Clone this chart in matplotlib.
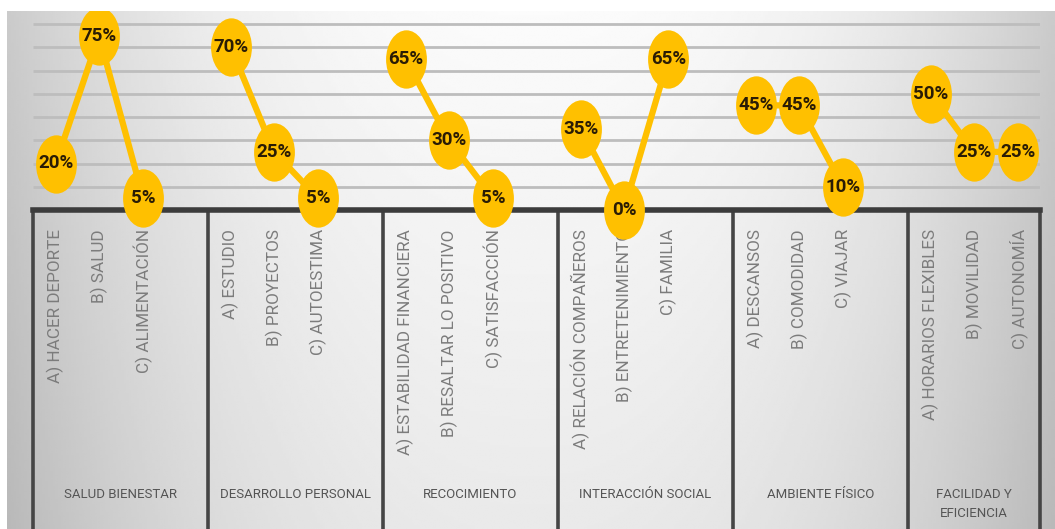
import numpy as np
import matplotlib
matplotlib.use('Agg')
import matplotlib.pyplot as plt
from matplotlib.path import Path
from matplotlib.transforms import Affine2D

groups = ["SALUD BIENESTAR", "DESARROLLO PERSONAL", "RECOCIMIENTO",
          "INTERACCIÓN SOCIAL", "AMBIENTE FÍSICO", "FACILIDAD Y\nEFICIENCIA"]
items = [["A) HACER DEPORTE", "B) SALUD", "C) ALIMENTACIÓN"],
         ["A) ESTUDIO", "B) PROYECTOS", "C) AUTOESTIMA"],
         ["A) ESTABILIDAD FINANCIERA", "B) RESALTAR LO POSITIVO", "C) SATISFACCIÓN"],
         ["A) RELACIÓN COMPAÑEROS", "B) ENTRETENIMIENTO", "C) FAMILIA"],
         ["A) DESCANSOS", "B) COMODIDAD", "C) VIAJAR"],
         ["A) HORARIOS FLEXIBLES", "B) MOVILIDAD", "C) AUTONOMÍA"]]
values = [[20, 75, 5], [70, 25, 5], [65, 30, 5],
          [35, 0, 65], [45, 45, 10], [50, 25, 25]]

GOLD = '#FFC000'
NARROW = ['Roboto', 'DejaVu Sans']

W, H = 1055, 529
fig = plt.figure(figsize=(W / 100, H / 100), dpi=100)
fig.patch.set_facecolor('white')

# gradient background
bg = fig.add_axes([7 / W, 0, (W - 7) / W, (H - 11) / H])
u = np.linspace(-1, 1, 400)
w = np.linspace(0, 1, 200)
U, Wv = np.meshgrid(u, w)
shade = 0.985 - 0.19 * np.abs(U) ** 2.4 - 0.07 * Wv
bg.imshow(shade, cmap='gray', vmin=0, vmax=1, aspect='auto',
          extent=[0, 1, 0, 1], interpolation='bilinear')
bg.set_axis_off()

x0, x1 = 33, 1040
ybase = 210
px_per_unit = 175.0
xmax = (x1 - x0) / px_per_unit
px_per_pct = 2.325

# table below the axis
tax = fig.add_axes([x0 / W, 0, (x1 - x0) / W, (H - ybase) / H])
tax.set_xlim(0, xmax)
tax.set_ylim(1, 0)
tax.set_axis_off()
tax.patch.set_alpha(0)
bounds = list(range(len(groups))) + [xmax]
tax.vlines(bounds, 0, 1.05, colors='#454545', lw=2.6, clip_on=False)

offsets = [0.13, 0.377, 0.63]

for g, name in enumerate(groups):
    for j, lab in enumerate(items[g]):
        tax.text(g + offsets[j], 0.06, lab, rotation=90, ha='center', va='top',
                 fontsize=12.3, color='#7c7c7c', family=NARROW)
    gx = (bounds[g] + bounds[g + 1]) / 2
    tax.text(gx, 0.87, name, ha='center', va='top', fontsize=9.5,
             color='#555555', family=NARROW, linespacing=1.6)

# data axes
ax = fig.add_axes([x0 / W, (H - ybase) / H, (x1 - x0) / W, (ybase - 11) / H])
ax.set_xlim(0, xmax)
ax.set_ylim(0, (ybase - 11) / px_per_pct)
ax.set_axis_off()
ax.patch.set_alpha(0)
ax.hlines(range(10, 90, 10), 0, xmax + 0.02, colors='#bdbdbd', lw=2)
ax.axhline(0, color='#3c3c3c', lw=4, clip_on=False, zorder=2)

ellipse = Path.unit_circle().transformed(Affine2D().scale(0.7, 1.0))

for g in range(len(groups)):
    xs = [g + o for o in offsets]
    ln, = ax.plot(xs, values[g], color=GOLD, lw=4.5, marker=ellipse,
                  markersize=42, markerfacecolor=GOLD, markeredgewidth=0,
                  zorder=3)
    ln.set_clip_path(bg.patch)
    for x, v in zip(xs, values[g]):
        ax.text(x, v, f'{v}%', ha='center', va='center', fontsize=13.5,
                fontweight='bold', color='#2a1c05', family=NARROW,
                zorder=4, clip_on=False)

fig.savefig('out.png', dpi=100)
